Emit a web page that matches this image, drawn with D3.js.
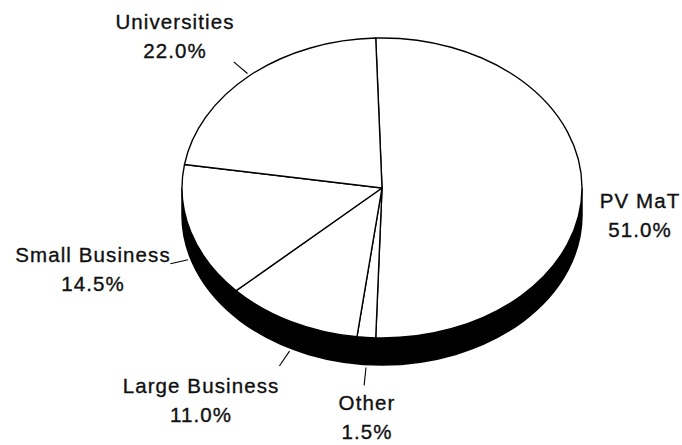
<!DOCTYPE html>
<html>
<head>
<meta charset="utf-8">
<script src="https://cdn.jsdelivr.net/npm/d3@7"></script>
<style>
  html, body { margin: 0; padding: 0; background: #fff; }
  svg { display: block; }
  text { font-family: "Liberation Sans", Arial, Helvetica, sans-serif; font-size: 20.5px; letter-spacing: 1.1px; fill: #111; stroke: #111; stroke-width: 0.35px; }
</style>
</head>
<body>
<svg id="chart" width="682" height="445"></svg>
<script>
// Funding shares by recipient
const categories = ["PV MaT", "Other", "Large Business", "Small Business", "Universities"];
const shares = [51.0, 1.5, 11.0, 14.5, 22.0];
const shareLabels = ["51.0%", "1.5%", "11.0%", "14.5%", "22.0%"];

// Label placement (first-line baseline) and whether a leader line is drawn
const labelLayout = {
  "PV MaT":         { x: 640, y: 208, leader: false },
  "Other":          { x: 367, y: 410, leader: true },
  "Large Business": { x: 201, y: 393, leader: true },
  "Small Business": { x: 93,  y: 262, leader: true },
  "Universities":   { x: 175, y: 29,  leader: true }
};

const cx = 382, cy = 188;      // centre of the top face
const rx = 200, ry = 150;      // ellipse radii of the tilted disc
const depth = 27;              // thickness of the disc edge
const lineH = 29;

const svg = d3.select("#chart");

const data = categories.map((c, i) => ({ name: c, value: shares[i], label: shareLabels[i] }));

const startAngle = -1.8 * Math.PI / 180;
const pie = d3.pie()
  .sort(null)
  .value(d => d.value)
  .startAngle(startAngle)
  .endAngle(startAngle + 2 * Math.PI);
const arcs = pie(data);

// Disc edge: lower half of the ellipse extruded downward
const edgeD = `M${cx - rx},${cy} A${rx},${ry} 0 0 0 ${cx + rx},${cy} ` +
              `L${cx + rx},${cy + depth} A${rx},${ry} 0 0 1 ${cx - rx},${cy + depth} Z`;
svg.append("path")
  .attr("d", edgeD)
  .attr("fill", "#000")
  .attr("stroke", "#000")
  .attr("stroke-width", 1.5);

// Top face: a circular pie squashed vertically into an ellipse
const arc = d3.arc().innerRadius(0).outerRadius(rx);
const face = svg.append("g")
  .attr("transform", `translate(${cx},${cy}) scale(1,${ry / rx})`);
face.selectAll("path.slice")
  .data(arcs)
  .join("path")
  .attr("class", "slice")
  .attr("d", arc)
  .attr("fill", "#fff")
  .attr("stroke", "#000")
  .attr("stroke-width", 1.4)
  .attr("stroke-linejoin", "round")
  .attr("vector-effect", "non-scaling-stroke");

// Leader lines from each slice's mid-angle outward
function outerPoint(a) {
  const s = Math.sin(a), c = Math.cos(a);
  const x = cx + rx * s;
  const y = cy - ry * c + (c < 0 ? depth : 0);
  return [x, y];
}
const leaders = arcs.filter(d => labelLayout[d.data.name].leader);
svg.selectAll("line.leader")
  .data(leaders)
  .join("line")
  .attr("class", "leader")
  .each(function (d) {
    const a = (d.startAngle + d.endAngle) / 2;
    const [px, py] = outerPoint(a);
    let ux = Math.sin(a), uy = -Math.cos(a) * ry / rx;
    const n = Math.hypot(ux, uy);
    ux /= n; uy /= n;
    const gap = 3, len = 18;
    d3.select(this)
      .attr("x1", px + ux * gap).attr("y1", py + uy * gap)
      .attr("x2", px + ux * (gap + len)).attr("y2", py + uy * (gap + len));
  })
  .attr("stroke", "#000")
  .attr("stroke-width", 1.1);

// Category name and share
const labels = svg.selectAll("g.label")
  .data(arcs)
  .join("g")
  .attr("class", "label")
  .attr("transform", d => `translate(${labelLayout[d.data.name].x},${labelLayout[d.data.name].y})`);
labels.append("text")
  .attr("text-anchor", "middle")
  .text(d => d.data.name);
labels.append("text")
  .attr("text-anchor", "middle")
  .attr("y", lineH)
  .text(d => d.data.label);
</script>
</body>
</html>
